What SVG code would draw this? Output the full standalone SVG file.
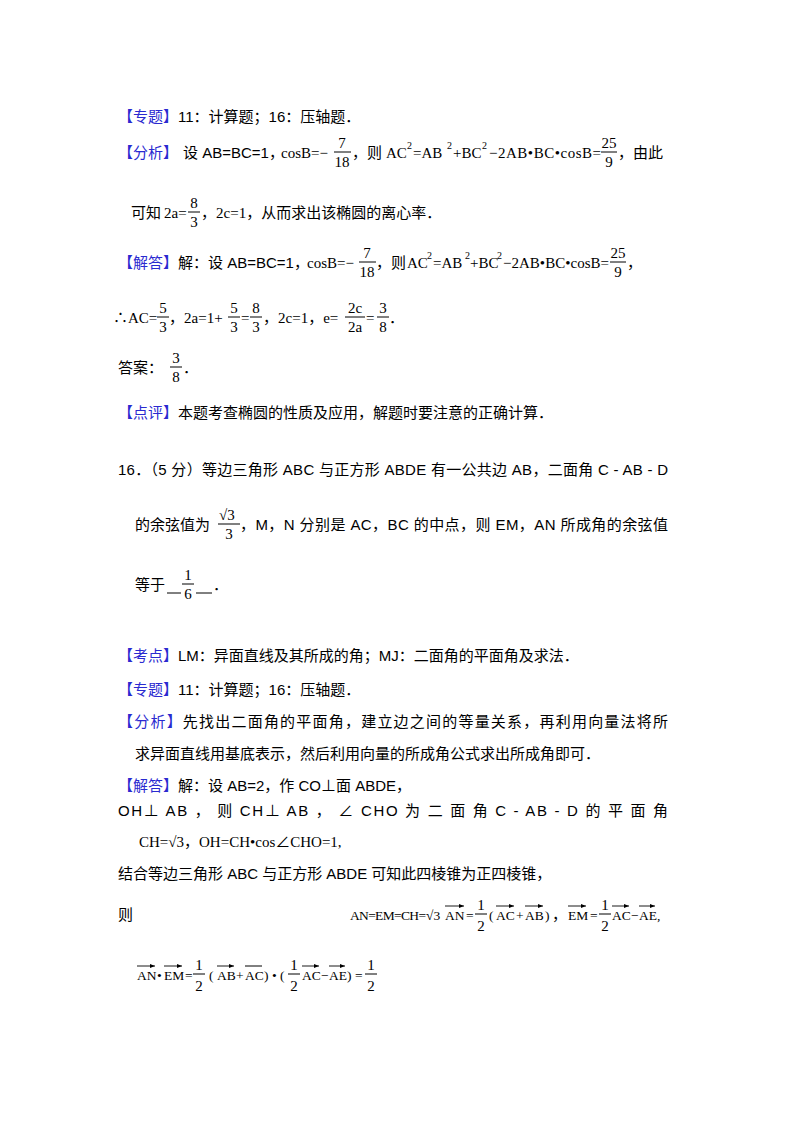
<svg xmlns="http://www.w3.org/2000/svg" width="800" height="1132" viewBox="0 0 800 1132">
<style>
text{font-family:"Liberation Sans","Noto Sans CJK SC",sans-serif;font-size:15px;fill:#000}
.m{font-family:"Liberation Serif","Noto Sans CJK SC",serif;font-size:15px}
.n{font-family:"Liberation Serif","Noto Sans CJK SC",serif;font-size:13.5px}
.s{font-size:10px}
.b{fill:#2a2ad0}
.c{text-anchor:middle}
.bar{stroke:#000;stroke-width:1}
.v{stroke:#000;stroke-width:0.9;marker-end:url(#ah)}
</style>
<defs><marker id="ah" markerWidth="5" markerHeight="4" refX="5" refY="2" orient="auto" markerUnits="userSpaceOnUse"><path d="M0,0L5,2L0,4z" fill="#000"/></marker></defs>
<rect width="800" height="1132" fill="#fff"/>
<g id="p1">
<text x="118" y="122"><tspan class="b">【专题】</tspan>11：计算题；16：压轴题．</text>
<text x="118" y="158"><tspan class="b">【分析】</tspan></text>
<text x="183" y="158">设 AB=BC=1，</text>
<text class="m" x="281" y="158">cosB=−</text>
<text class="m c" x="342" y="148">7</text><line class="bar" x1="334" y1="152" x2="351" y2="152"/><text class="m c" x="342" y="167">18</text>
<text x="352" y="158">，则</text>
<text class="m" x="386" y="158">AC</text><text class="m s" x="407" y="149">2</text>
<text class="m" x="413" y="158">=AB</text><text class="m s" x="447" y="149">2</text>
<text class="m" x="453" y="158">+BC</text><text class="m s" x="482" y="149">2</text>
<text class="m" x="489" y="158" textLength="112">−2AB•BC•cosB=</text>
<text class="m c" x="609" y="148">25</text><line class="bar" x1="601" y1="152" x2="617" y2="152"/><text class="m c" x="609" y="167">9</text>
<text x="618" y="158">，由此</text>
<text x="131" y="218">可知</text><text class="m" x="164" y="218">2a=</text>
<text class="m c" x="194" y="208">8</text><line class="bar" x1="188" y1="212" x2="200" y2="212"/><text class="m c" x="194" y="227">3</text>
<text x="201" y="218">，<tspan class="m">2c=1</tspan>，从而求出该椭圆的离心率．</text>
<text x="118" y="268"><tspan class="b">【解答】</tspan>解：设 AB=BC=1，</text>
<text class="m" x="307" y="268">cosB=−</text>
<text class="m c" x="367" y="258">7</text><line class="bar" x1="359" y1="262" x2="376" y2="262"/><text class="m c" x="367" y="277">18</text>
<text x="376" y="268">，则</text>
<text class="m" x="407" y="268">AC</text><text class="m s" x="427" y="259">2</text>
<text class="m" x="433" y="268">=AB</text><text class="m s" x="465" y="259">2</text>
<text class="m" x="470" y="268">+BC</text><text class="m s" x="497" y="259">2</text>
<text class="m" x="503" y="268" textLength="106">−2AB•BC•cosB=</text>
<text class="m c" x="618" y="258">25</text><line class="bar" x1="610" y1="262" x2="626" y2="262"/><text class="m c" x="618" y="277">9</text>
<text x="627" y="268">，</text>
<text class="m" x="113" y="323">∴AC=</text>
<text class="m c" x="163" y="313">5</text><line class="bar" x1="157" y1="317" x2="169" y2="317"/><text class="m c" x="163" y="332">3</text>
<text x="169" y="323">，<tspan class="m">2a=1+</tspan></text>
<text class="m c" x="234" y="313">5</text><line class="bar" x1="228" y1="317" x2="240" y2="317"/><text class="m c" x="234" y="332">3</text>
<text class="m" x="241" y="323">=</text>
<text class="m c" x="256" y="313">8</text><line class="bar" x1="250" y1="317" x2="262" y2="317"/><text class="m c" x="256" y="332">3</text>
<text x="263" y="323">，<tspan class="m">2c=1</tspan>，<tspan class="m">e=</tspan></text>
<text class="m c" x="355" y="313">2c</text><line class="bar" x1="345" y1="317" x2="365" y2="317"/><text class="m c" x="355" y="332">2a</text>
<text class="m" x="366" y="323">=</text>
<text class="m c" x="383" y="313">3</text><line class="bar" x1="377" y1="317" x2="389" y2="317"/><text class="m c" x="383" y="332">8</text>
<text x="389" y="323">．</text>
<text x="118" y="373">答案：</text>
<text class="m c" x="176" y="363">3</text><line class="bar" x1="170" y1="367" x2="182" y2="367"/><text class="m c" x="176" y="382">8</text>
<text x="183" y="373">．</text>
<text x="118" y="418"><tspan class="b">【点评】</tspan>本题考查椭圆的性质及应用，解题时要注意的正确计算．</text>
</g>
<g id="p2">
<text x="118" y="475" textLength="550">16．（5 分）等边三角形 ABC 与正方形 ABDE 有一公共边 AB，二面角 C - AB - D</text>
<text x="135" y="530">的余弦值为</text>
<text class="m" x="219" y="520">√3</text><line class="bar" x1="218" y1="524" x2="240" y2="524"/><text class="m c" x="229" y="539">3</text>
<text x="240" y="530" textLength="428">，M，N 分别是 AC，BC 的中点，则 EM，AN 所成角的余弦值</text>
<text x="135" y="590">等于</text>
<text class="m c" x="188" y="580">1</text><line class="bar" x1="182" y1="584" x2="194" y2="584"/><text class="m c" x="188" y="599">6</text>
<line class="bar" x1="167" y1="593" x2="181" y2="593"/><line class="bar" x1="196" y1="593" x2="212" y2="593"/>
<text x="213" y="590">．</text>
<text x="118" y="661"><tspan class="b">【考点】</tspan>LM：异面直线及其所成的角；MJ：二面角的平面角及求法．</text>
<text x="118" y="695"><tspan class="b">【专题】</tspan>11：计算题；16：压轴题．</text>
<text x="118" y="727" textLength="550"><tspan class="b">【分析】</tspan>先找出二面角的平面角，建立边之间的等量关系，再利用向量法将所</text>
<text x="135" y="759">求异面直线用基底表示，然后利用向量的所成角公式求出所成角即可．</text>
<text x="118" y="791"><tspan class="b">【解答】</tspan>解：设 AB=2，作 CO⊥面 ABDE，</text>
<text x="118" y="816" textLength="550">OH⊥ AB ， 则 CH⊥ AB ， ∠ CHO 为 二 面 角 C - AB - D 的 平 面 角</text>
<text class="m" x="139" y="847">CH=√3，OH=CH•cos∠CHO=1,</text>
<text x="118" y="879">结合等边三角形 ABC 与正方形 ABDE 可知此四棱锥为正四棱锥，</text>
<text x="118" y="920">则</text>
<text class="n" x="350" y="920" textLength="76">AN=EM=CH=</text>
<text class="n" x="426" y="920">√3</text>
<text class="n" x="445" y="920">AN</text><line class="v" x1="445" y1="906" x2="464" y2="906"/>
<text class="n" x="466" y="920">=</text>
<text class="m c" x="481" y="910">1</text><line class="bar" x1="475" y1="914" x2="487" y2="914"/><text class="m c" x="481" y="931">2</text>
<text class="n" x="489" y="920">(</text>
<text class="n" x="496" y="920">AC</text><line class="v" x1="496" y1="906" x2="514" y2="906"/>
<text class="n" x="516" y="920">+</text>
<text class="n" x="525" y="920">AB</text><line class="v" x1="525" y1="906" x2="543" y2="906"/>
<text class="n" x="545" y="920">)</text><text x="552" y="920">，</text>
<text class="n" x="568" y="920">EM</text><line class="v" x1="568" y1="906" x2="586" y2="906"/>
<text class="n" x="590" y="920">=</text>
<text class="m c" x="605" y="910">1</text><line class="bar" x1="599" y1="914" x2="611" y2="914"/><text class="m c" x="605" y="931">2</text>
<text class="n" x="612" y="920">AC</text><line class="v" x1="612" y1="906" x2="629" y2="906"/>
<text class="n" x="631" y="920">−</text>
<text class="n" x="639" y="920">AE</text><line class="v" x1="639" y1="906" x2="655" y2="906"/>
<text class="n" x="657" y="920">,</text>
<text class="n" x="137" y="980">AN</text><line class="v" x1="137" y1="966" x2="155" y2="966"/>
<text class="n" x="157" y="980">•</text>
<text class="n" x="164" y="980">EM</text><line class="v" x1="164" y1="966" x2="182" y2="966"/>
<text class="n" x="185" y="980">=</text>
<text class="m c" x="199" y="970">1</text><line class="bar" x1="193" y1="974" x2="205" y2="974"/><text class="m c" x="199" y="991">2</text>
<text class="n" x="209" y="980">(</text>
<text class="n" x="217" y="980">AB</text><line class="v" x1="217" y1="966" x2="234" y2="966"/>
<text class="n" x="236" y="980">+</text>
<text class="n" x="245" y="980">AC</text><line class="bar" x1="245" y1="966" x2="262" y2="966"/>
<text class="n" x="264" y="980">)</text>
<text class="n" x="272" y="980">•</text>
<text class="n" x="280" y="980">(</text>
<text class="m c" x="294" y="970">1</text><line class="bar" x1="288" y1="974" x2="300" y2="974"/><text class="m c" x="294" y="991">2</text>
<text class="n" x="302" y="980">AC</text><line class="v" x1="302" y1="966" x2="319" y2="966"/>
<text class="n" x="321" y="980">−</text>
<text class="n" x="329" y="980">AE</text><line class="v" x1="329" y1="966" x2="345" y2="966"/>
<text class="n" x="347" y="980">)</text>
<text class="n" x="355" y="980">=</text>
<text class="m c" x="371" y="970">1</text><line class="bar" x1="365" y1="974" x2="377" y2="974"/><text class="m c" x="371" y="991">2</text>
</g>
</svg>
